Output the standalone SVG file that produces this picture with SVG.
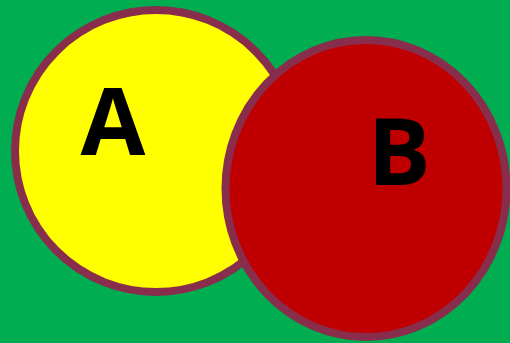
<svg xmlns="http://www.w3.org/2000/svg" width="510" height="343" viewBox="0 0 510 343">
<style>
.c{stroke:#882D4C;stroke-width:8}
.t{font-family:"Open Sans","Liberation Sans",sans-serif;font-weight:bold;font-size:94px;fill:#000;text-anchor:middle}
</style>
<rect width="510" height="343" fill="#00AD50"/>
<g id="A">
<ellipse class="c" cx="156" cy="151" rx="141" ry="141" fill="#FFFF00"/>
<text class="t" x="113" y="155">A</text>
</g>
<g id="B">
<ellipse class="c" cx="366" cy="188.5" rx="140.5" ry="148.5" fill="#C00000"/>
<text class="t" x="399" y="185">B</text>
</g>
<g id="connectors"/>
</svg>
